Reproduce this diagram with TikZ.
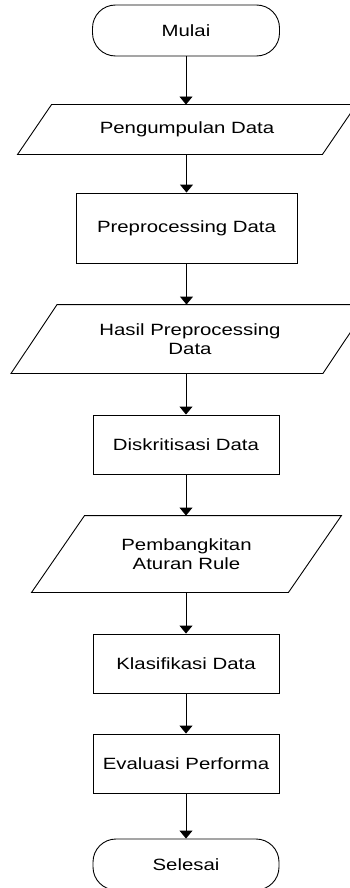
\documentclass[tikz,border=0pt]{standalone}
\usepackage{fontspec}
\setmainfont{Liberation Sans}[FakeStretch=1.25]
\usetikzlibrary{positioning, arrows.meta}

\tikzset{
  term/.style={draw, rectangle, rounded corners=23pt, minimum width=187pt, minimum height=51pt, inner sep=0pt},
  proc/.style={draw, rectangle, minimum width=186pt, minimum height=59pt, inner sep=0pt},
  io/.style={rectangle, inner sep=0pt, align=center},
  arr/.style={-{Triangle[width=13pt, length=8pt]}},
}
% slanted frame round an io node: #1 node name, #2 half of the slant
\newcommand{\ioframe}[2]{%
  \draw ([xshift=#2]#1.north west) -- ([xshift=#2]#1.north east)
    -- ([xshift=-#2]#1.south east) -- ([xshift=-#2]#1.south west) -- cycle;}

\begin{document}
\begin{tikzpicture}[x=1pt, y=1pt, line width=0.9pt, font=\fontsize{16.3}{19.3}\selectfont]
  \useasboundingbox (0,0) rectangle (349,-888);

  % flowchart steps, top to bottom
  \node[term] (mulai) at (186,-30.5) {Mulai};
  \node[io, minimum width=304pt, minimum height=49pt] (kumpul) at (187,-129.5) {Pengumpulan Data};
  \node[proc, minimum width=221pt, minimum height=70pt] (prep) at (186.5,-228) {Preprocessing Data};
  \node[io, minimum width=311pt, minimum height=68pt] (hasil) at (190,-339) {Hasil Preprocessing\\Data};
  \node[proc] (diskrit) at (186,-444.5) {Diskritisasi Data};
  \node[io, minimum width=256pt, minimum height=76pt] (rule) at (186.5,-554) {Pembangkitan\\Aturan Rule};
  \node[proc] (klas) at (186,-663.5) {Klasifikasi Data};
  \node[proc] (eval) at (186,-763.5) {Evaluasi Performa};
  \node[term, minimum width=186pt] (selesai) at (186,-864.5) {Selesai};

  \ioframe{kumpul}{17pt}
  \ioframe{hasil}{23pt}
  \ioframe{rule}{26.5pt}

  \draw[arr] (mulai.south) -- (mulai.south |- kumpul.north);
  \draw[arr] (kumpul.south -| prep) -- (prep.north);
  \draw[arr] (prep.south) -- (prep.south |- hasil.north);
  \draw[arr] (hasil.south -| diskrit) -- (diskrit.north);
  \draw[arr] (diskrit.south) -- (diskrit.south |- rule.north);
  \draw[arr] (rule.south -| klas) -- (klas.north);
  \draw[arr] (klas.south) -- (eval.north);
  \draw[arr] (eval.south) -- (selesai.north);
\end{tikzpicture}
\end{document}
